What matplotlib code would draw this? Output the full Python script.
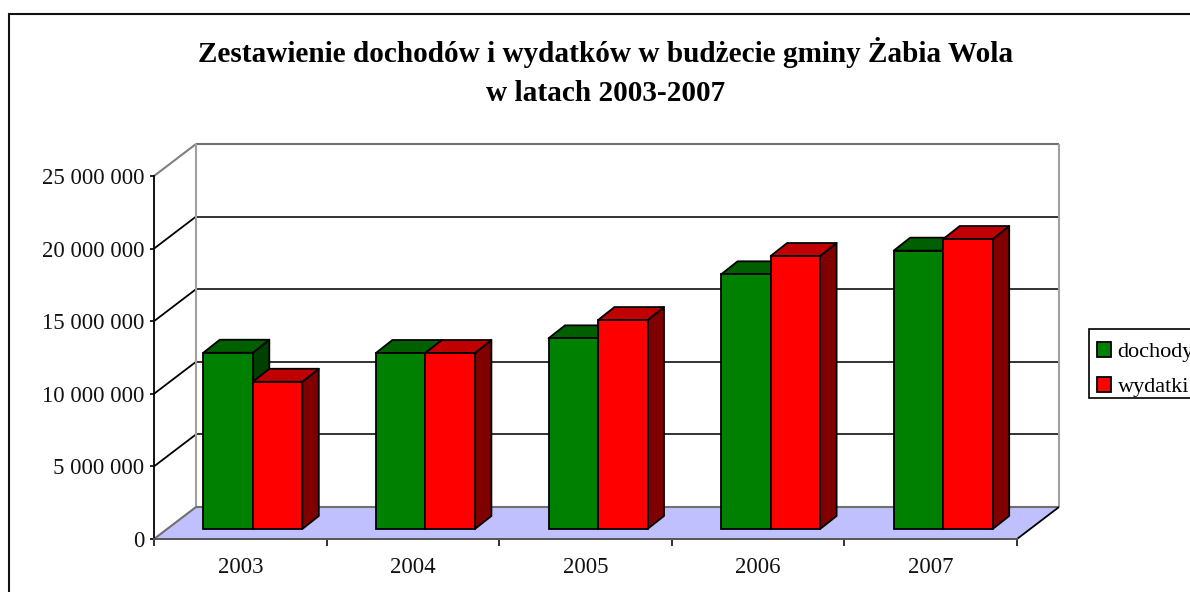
import matplotlib
matplotlib.use('Agg')
import matplotlib.pyplot as plt
from matplotlib.patches import Patch, Polygon, Rectangle
from matplotlib.ticker import FuncFormatter

#------------------------------DATA-------------------------------------------------
years = ['2003', '2004', '2005', '2006', '2007']
dochody = [12140000, 12120000, 13130000, 17540000, 19170000]
wydatki = [10140000, 12120000, 14390000, 18800000, 19970000]
y_ticks = [0, 5000000, 10000000, 15000000, 20000000, 25000000]

title = 'Zestawienie dochodów i wydatków w budżecie gminy Żabia Wola\nw latach 2003-2007'

#------------------------------STYLE------------------------------------------------
W, H = 1190, 592
plt.rcParams['font.family'] = ['Liberation Serif', 'DejaVu Serif']

green = ('#008000', '#006000', '#004000')  # front, top, side
red = ('#FF0000', '#C00000', '#800000')

fig = plt.figure(figsize=(W / 100, H / 100), dpi=100, facecolor='white')
ax = fig.add_axes([154 / W, (H - 539) / H, 863 / W, 363 / H])
ax.set_xlim(0, len(years))
ax.set_ylim(0, y_ticks[-1])

# one data unit in pixels, used to turn the 3D depth into data offsets
px_x = 863 / len(years)
px_y = 363 / y_ticks[-1]

wall_dx, wall_dy = 42 / px_x, 32 / px_y
bar_dx, bar_dy = 16.5 / px_x, 13 / px_y
base_dx, base_dy = 12.5 / px_x, 10 / px_y
bar_w = 49.5 / px_x
gap = (1 - 2 * bar_w) / 2 


def poly(points, **kw):
    ax.add_patch(Polygon(points, closed=True, clip_on=False, **kw))


def line(xs, ys, color, lw=1.3, z=1):
    ax.plot(xs, ys, color=color, lw=lw, clip_on=False, zorder=z, solid_capstyle='butt')


#------------------------------FRAME AROUND THE CHART-------------------------------
fig.add_artist(Rectangle((9 / W, -0.05), 1.1, (H - 14) / H + 0.05, transform=fig.transFigure,
                         facecolor='none', edgecolor='#111111', lw=1.5))

#------------------------------WALLS AND FLOOR--------------------------------------
n = len(years)
top = y_ticks[-1]
poly([(0, 0), (n, 0), (n + wall_dx, wall_dy), (wall_dx, wall_dy)],
     facecolor='#C0C0FF', edgecolor='none', zorder=1)

for t in y_ticks[1:-1]:
    line([0, wall_dx], [t, t + wall_dy], 'black')
    line([wall_dx, n + wall_dx], [t + wall_dy, t + wall_dy], '#222222')

line([0, wall_dx], [top, top + wall_dy], '#808080', 1.5)
line([wall_dx, n + wall_dx], [top + wall_dy, top + wall_dy], '#707070', 1.5)
line([wall_dx, wall_dx], [wall_dy, top + wall_dy], '#A0A0A0', 1.5)
line([n + wall_dx, n + wall_dx], [wall_dy, top + wall_dy], '#A0A0A0', 1.5)
line([wall_dx, n + wall_dx], [wall_dy, wall_dy], '#707070', 1.5)
line([0, wall_dx], [0, wall_dy], '#707070', 1.5)
line([n, n + wall_dx], [0, wall_dy], 'black', 1.3)

#------------------------------BARS-------------------------------------------------
for i in range(n):
    x0 = i + gap + base_dx
    for j, (vals, cols) in enumerate([(dochody, green), (wydatki, red)]):
        v = vals[i]
        left = x0 + j * bar_w
        right = left + bar_w
        z = 3 + i + j * 0.1
        top_y = base_dy + v
        # side and top first, then the front face
        poly([(right, base_dy), (right + bar_dx, base_dy + bar_dy),
              (right + bar_dx, top_y + bar_dy), (right, top_y)],
             facecolor=cols[2], edgecolor='black', lw=1.3, zorder=z, joinstyle='round')
        poly([(left, top_y), (right, top_y), (right + bar_dx, top_y + bar_dy), (left + bar_dx, top_y + bar_dy)],
             facecolor=cols[1], edgecolor='black', lw=1.3, zorder=z, joinstyle='round')
        ax.bar(left, v, width=bar_w, bottom=base_dy, align='edge', color=cols[0],
               edgecolor='black', lw=1.3, zorder=z + 0.01, clip_on=False)

#------------------------------AXES-------------------------------------------------
for s in ['top', 'right']:
    ax.spines[s].set_visible(False)
ax.patch.set_visible(False)
ax.spines['left'].set_linewidth(1.3)
ax.spines['bottom'].set_linewidth(1.4)
ax.spines['bottom'].set_color('#555555')

ax.set_yticks(y_ticks)
ax.yaxis.set_major_formatter(FuncFormatter(lambda v, p: f'{int(v):,}'.replace(',', ' ')))
ax.tick_params(axis='y', length=3, width=1.3, pad=4, labelsize=16.4, colors='#111111')

ax.set_xticks(range(n + 1))
ax.set_xticklabels([])
ax.set_xticks([i + 0.5 for i in range(n)], minor=True)
ax.set_xticklabels(years, minor=True)
ax.tick_params(axis='x', which='major', length=5, width=1.3, colors='#222222')
ax.tick_params(axis='x', which='minor', length=0, pad=13, labelsize=16.4, labelcolor='#111111')

fig.text(606 / W, (H - 72) / H, title, ha='center', va='center', fontsize=21.1, fontweight='bold',
         linespacing=1.53, color='black')

#------------------------------LEGEND-----------------------------------------------
# frame drawn by hand, the rows sit lower in it than the legend padding allows
fig.add_artist(Rectangle((1089 / W, (H - 398) / H), 0.2, 69 / H, transform=fig.transFigure,
                         facecolor='white', edgecolor='black', lw=1.2))
handles = [Patch(facecolor=green[0], edgecolor='black', lw=1.3, label='dochody'),
           Patch(facecolor=red[0], edgecolor='black', lw=1.3, label='wydatki')]
fig.legend(handles=handles, loc='upper left', bbox_to_anchor=(1089 / W, (H - 334) / H),
           bbox_transform=fig.transFigure, fontsize=16, frameon=False,
           handlelength=0.63, handleheight=0.63, handletextpad=0.3,
           borderpad=0.36, labelspacing=0.68, borderaxespad=0)

fig.savefig('out.png', dpi=100, facecolor='white')
